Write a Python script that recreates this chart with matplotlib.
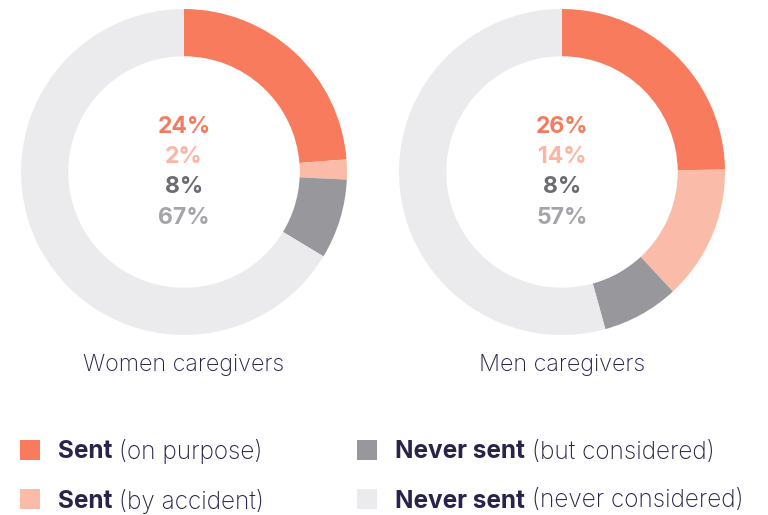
import matplotlib.pyplot as plt
from matplotlib.patches import Rectangle

groups = ['Women caregivers', 'Men caregivers']
women = [24, 2, 8, 67]
men = [26, 14, 8, 57]
colors = ['#F97B5D', '#FBBBA9', '#98979C', '#EBEBED']
num_colors = ['#F47B5E', '#FBB5A2', '#6C6B71', '#A5A4A9']
legend_bold = ['Sent', 'Sent', 'Never sent', 'Never sent']
legend_rest = [' (on purpose)', ' (by accident)', ' (but considered)', ' (never considered)']

navy = '#27234A'
plt.rcParams['font.family'] = ['Inter', 'DejaVu Sans']

W, H = 768, 515
fig = plt.figure(figsize=(W / 100, H / 100), dpi=100)

centers = [184, 562]
r = 163
cy = 172
for cx, vals, name in zip(centers, [women, men], groups):
    ax = fig.add_axes([(cx - r) / W, (H - cy - r) / H, 2 * r / W, 2 * r / H])
    ax.pie(vals, colors=colors, startangle=90, counterclock=False, radius=1,
           wedgeprops=dict(width=0.29, edgecolor='none'))
    ax.set_xlim(-1, 1)
    ax.set_ylim(-1, 1)
    ax.set_aspect('equal')
    ax.axis('off')
    for i, v in enumerate(vals):
        ax.text(0, 0.275 - i * 0.185, f'{v}%', ha='center', va='center',
                fontsize=16.5, fontweight='bold', color=num_colors[i])
    fig.text(cx / W, (H - 365) / H, name, ha='center', va='center',
             fontsize=16.8, fontweight='light', color=navy)

# legend
sq = 20
pos = [(20, 450), (20, 499), (357, 450), (357, 499)]
for (x, y), c, b, rest in zip(pos, colors, legend_bold, legend_rest):
    fig.patches.append(Rectangle((x / W, (H - y - sq / 2) / H), sq / W, sq / H,
                                 transform=fig.transFigure, facecolor=c,
                                 edgecolor='none'))
    t = fig.text((x + 38) / W, (H - y - 2) / H, b, ha='left', va='center',
                 fontsize=17.5, fontweight='bold', color=navy)
    fig.add_artist(plt.Annotation(rest, xy=(1, 0.5), xycoords=t,
                                  va='center', ha='left', fontsize=17.5,
                                  fontweight='light', color=navy))

fig.savefig('out.png', dpi=100)
